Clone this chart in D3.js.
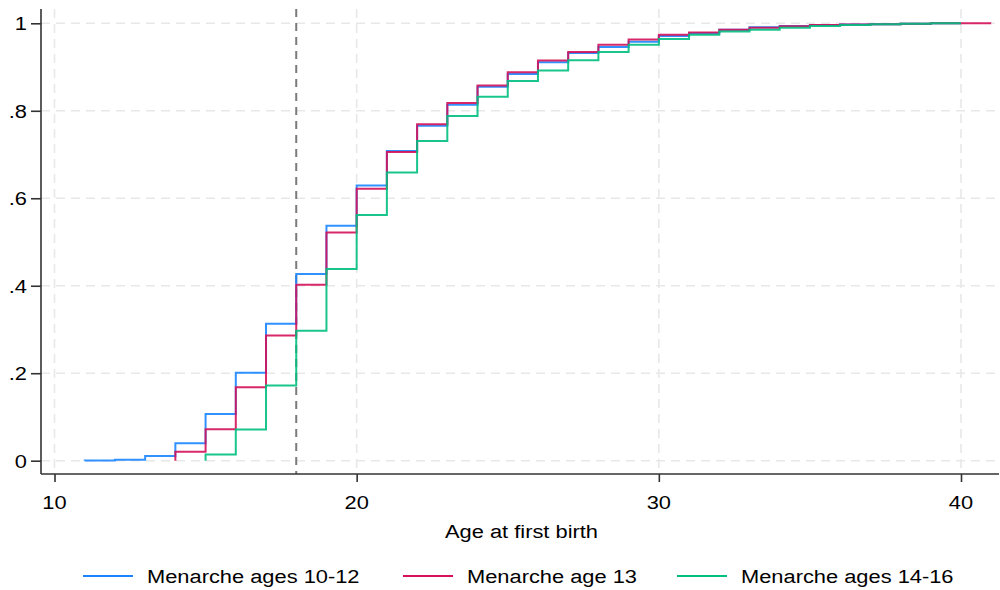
<!DOCTYPE html>
<html>
<head>
<meta charset="utf-8">
<script src="https://cdn.jsdelivr.net/npm/d3@7"></script>
<style>
  html, body { margin: 0; padding: 0; background: #fff; }
  svg { display: block; font-family: Arial, "Liberation Sans", sans-serif; }
</style>
</head>
<body>
<svg id="chart" width="1000" height="590"></svg>
<script>
// Cumulative share having had a first birth, by age at first birth
const blueAges   = [11, 12, 13, 14, 15, 16, 17, 18, 19, 20, 21, 22, 23, 24, 25, 26, 27, 28, 29, 30, 31, 32, 33, 34, 35, 36, 37, 38, 39, 40];
const blueValues = [0.0005, 0.002, 0.011, 0.040, 0.107, 0.201, 0.313, 0.427, 0.537, 0.629, 0.708, 0.766, 0.814, 0.855, 0.884, 0.911, 0.932, 0.946, 0.958, 0.971, 0.977, 0.985, 0.991, 0.994, 0.996, 0.997, 0.998, 0.999, 1.0, 1.0];

const redAges   = [14, 15, 16, 17, 18, 19, 20, 21, 22, 23, 24, 25, 26, 27, 28, 29, 30, 31, 32, 33, 34, 35, 36, 37, 38, 39, 40, 41];
const redValues = [0.0205, 0.072, 0.168, 0.286, 0.402, 0.522, 0.622, 0.706, 0.769, 0.818, 0.858, 0.888, 0.915, 0.9345, 0.951, 0.963, 0.974, 0.979, 0.985, 0.990, 0.993, 0.996, 0.997, 0.998, 0.999, 1.0, 1.0, 1.0];

const greenAges   = [15, 16, 17, 18, 19, 20, 21, 22, 23, 24, 25, 26, 27, 28, 29, 30, 31, 32, 33, 34, 35, 36, 37, 38, 39, 40];
const greenValues = [0.014, 0.0715, 0.172, 0.297, 0.438, 0.562, 0.659, 0.731, 0.788, 0.832, 0.868, 0.892, 0.9155, 0.9345, 0.951, 0.964, 0.974, 0.981, 0.985, 0.990, 0.994, 0.996, 0.998, 0.999, 1.0, 1.0];

const seriesNames = ["Menarche ages 10-12", "Menarche age 13", "Menarche ages 14-16"];
const seriesColors = ["#1a85ff", "#d41159", "#00bf7f"];

const xTicks = [10, 20, 30, 40];
const yTicks = [0, 0.2, 0.4, 0.6, 0.8, 1];
const yTickLabels = ["0", ".2", ".4", ".6", ".8", "1"];
const cutoffAge = 18;
const xTitle = "Age at first birth";

const svg = d3.select("#chart");

const x = d3.scaleLinear().domain([10, 40]).range([54.5, 961]);
const y = d3.scaleLinear().domain([0, 1]).range([460.7, 23.3]);

const plotLeft = 41, plotRight = 999, plotTop = 9, plotBottom = 474;
const fontSize = 19;
const widen = 1.15; // glyphs are drawn slightly wider than tall

// text helper: anchored label with horizontal widening
function label(parent, tx, ty, str, anchor) {
  return parent.append("text")
    .attr("transform", `translate(${tx},${ty}) scale(${widen},1)`)
    .attr("text-anchor", anchor || "start")
    .attr("font-size", fontSize)
    .attr("fill", "#000")
    .text(str);
}

// grid lines
const grid = svg.append("g");
grid.selectAll("line.gy").data(yTicks).join("line")
  .attr("x1", plotLeft).attr("x2", plotRight)
  .attr("y1", d => y(d)).attr("y2", d => y(d))
  .attr("stroke", "#e8e8e8").attr("stroke-width", 1.6)
  .attr("stroke-dasharray", "9,6");
grid.selectAll("line.gx").data(xTicks).join("line")
  .attr("x1", d => x(d)).attr("x2", d => x(d))
  .attr("y1", plotTop).attr("y2", plotBottom)
  .attr("stroke", "#e8e8e8").attr("stroke-width", 1.6)
  .attr("stroke-dasharray", "9,6");

// reference line at age 18
svg.append("line")
  .attr("x1", x(cutoffAge)).attr("x2", x(cutoffAge))
  .attr("y1", plotTop).attr("y2", plotBottom)
  .attr("stroke", "#7a7a7a").attr("stroke-width", 2)
  .attr("stroke-dasharray", "8,6");

// step lines
const series = [
  { ages: blueAges, values: blueValues },
  { ages: redAges, values: redValues },
  { ages: greenAges, values: greenValues }
];
const line = d3.line().x(d => x(d[0])).y(d => y(d[1])).curve(d3.curveStepAfter);
series.forEach((s, i) => {
  const pts = [[s.ages[0], 0]].concat(s.ages.map((a, j) => [a, s.values[j]]));
  svg.append("path")
    .attr("d", line(pts))
    .attr("fill", "none")
    .attr("stroke", seriesColors[i])
    .attr("stroke-opacity", 0.9)
    .attr("stroke-width", 2);
});

// axes (ticks from d3, labels drawn widened)
const axisColor = "#333";
const yAxis = svg.append("g").attr("transform", `translate(${plotLeft},0)`)
  .call(d3.axisLeft(y).tickValues(yTicks).tickFormat("").tickSize(10));
yAxis.select(".domain").attr("d", `M0,${plotTop}V${plotBottom}`);
yTicks.forEach((t, i) => label(svg, 27, y(t) + 7, yTickLabels[i], "end"));

const xAxis = svg.append("g").attr("transform", `translate(0,${plotBottom})`)
  .call(d3.axisBottom(x).tickValues(xTicks).tickFormat("").tickSize(8));
xAxis.select(".domain").attr("d", `M${plotLeft},0H${plotRight}`);
xTicks.forEach(t => label(svg, x(t), 509, d3.format("d")(t), "middle"));

[xAxis, yAxis].forEach(g => {
  g.select(".domain").attr("stroke", axisColor).attr("stroke-width", 1.6);
  g.selectAll(".tick line").attr("stroke", axisColor).attr("stroke-width", 1.6);
});

label(svg, 521.5, 538, xTitle, "middle");

// legend
const legendX = [83, 403, 677];
const legend = svg.append("g");
seriesNames.forEach((name, i) => {
  legend.append("line")
    .attr("x1", legendX[i]).attr("x2", legendX[i] + 50)
    .attr("y1", 576).attr("y2", 576)
    .attr("stroke", seriesColors[i]).attr("stroke-width", 2);
  label(legend, legendX[i] + 64, 583, name, "start");
});
</script>
</body>
</html>
